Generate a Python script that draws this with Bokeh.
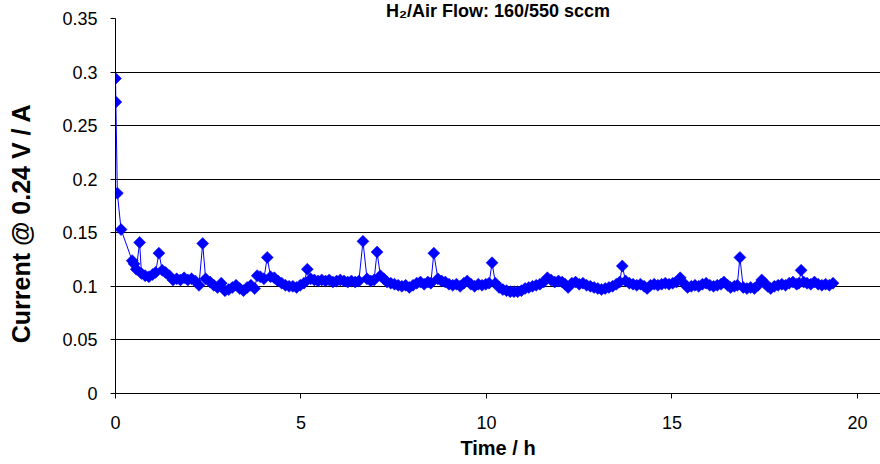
import numpy as np
from bokeh.plotting import figure
from bokeh.models import FixedTicker, CustomJSTickFormatter, Range1d
from bokeh.embed import file_html
from bokeh.resources import INLINE

# ---- data ----
time_h = [
    0.00, 0.01, 0.05, 0.15, 0.45, 0.50, 0.56, 0.65, 0.70, 0.80,
    0.90, 1.00, 1.08, 1.17, 1.26, 1.35, 1.45, 1.55, 1.65, 1.75,
    1.85, 1.95, 2.05, 2.15, 2.25, 2.35, 2.43, 2.55, 2.65, 2.75,
    2.85, 2.95, 3.05, 3.15, 3.25, 3.35, 3.45, 3.55, 3.65, 3.75,
    3.82, 3.90, 4.00, 4.09, 4.18, 4.28, 4.38, 4.48, 4.58, 4.68,
    4.78, 4.88, 4.98, 5.08, 5.17, 5.26, 5.36, 5.46, 5.56, 5.66,
    5.76, 5.86, 5.96, 6.06, 6.16, 6.26, 6.36, 6.46, 6.56, 6.67,
    6.78, 6.88, 6.97, 7.05, 7.14, 7.23, 7.32, 7.42, 7.52, 7.62,
    7.72, 7.82, 7.92, 8.02, 8.12, 8.22, 8.32, 8.42, 8.50, 8.58,
    8.69, 8.79, 8.89, 8.99, 9.09, 9.19, 9.29, 9.39, 9.48, 9.58,
    9.68, 9.78, 9.88, 9.98, 10.07, 10.15, 10.24, 10.34, 10.44, 10.54,
    10.64, 10.74, 10.84, 10.94, 11.04, 11.14, 11.24, 11.34, 11.44, 11.54,
    11.64, 11.74, 11.84, 11.94, 12.04, 12.12, 12.20, 12.30, 12.40, 12.50,
    12.60, 12.70, 12.80, 12.90, 13.00, 13.10, 13.20, 13.30, 13.40, 13.50,
    13.59, 13.66, 13.75, 13.85, 13.95, 14.05, 14.15, 14.25, 14.33, 14.42,
    14.52, 14.62, 14.72, 14.82, 14.92, 15.02, 15.12, 15.22, 15.32, 15.42,
    15.52, 15.62, 15.72, 15.82, 15.92, 16.02, 16.12, 16.22, 16.32, 16.40,
    16.50, 16.58, 16.68, 16.76, 16.83, 16.92, 17.02, 17.12, 17.22, 17.32,
    17.42, 17.50, 17.58, 17.66, 17.76, 17.86, 17.96, 18.06, 18.16, 18.26,
    18.36, 18.42, 18.48, 18.55, 18.64, 18.74, 18.84, 18.94, 19.04, 19.14,
    19.24, 19.34,
]
current_a = [
    0.294, 0.272, 0.187, 0.153, 0.124, 0.121, 0.116, 0.141, 0.112, 0.110,
    0.109, 0.111, 0.113, 0.131, 0.115, 0.113, 0.110, 0.106, 0.107, 0.106,
    0.108, 0.106, 0.107, 0.105, 0.101, 0.140, 0.107, 0.104, 0.101, 0.099,
    0.103, 0.096, 0.097, 0.099, 0.101, 0.098, 0.096, 0.099, 0.101, 0.098,
    0.110, 0.109, 0.107, 0.127, 0.109, 0.108, 0.105, 0.103, 0.101, 0.100,
    0.100, 0.099, 0.101, 0.103, 0.116, 0.107, 0.106, 0.105, 0.106, 0.105,
    0.106, 0.104, 0.105, 0.106, 0.105, 0.104, 0.105, 0.104, 0.105, 0.142,
    0.107, 0.105, 0.106, 0.132, 0.110, 0.107, 0.104, 0.103, 0.102, 0.101,
    0.100, 0.101, 0.099, 0.101, 0.103, 0.104, 0.102, 0.104, 0.103, 0.131,
    0.107, 0.105, 0.104, 0.102, 0.101, 0.102, 0.100, 0.103, 0.105, 0.102,
    0.100, 0.102, 0.101, 0.102, 0.103, 0.122, 0.103, 0.099, 0.097, 0.096,
    0.095, 0.095, 0.095, 0.096, 0.098, 0.099, 0.100, 0.101, 0.102, 0.104,
    0.108, 0.106, 0.104, 0.105, 0.104, 0.102, 0.099, 0.103, 0.104, 0.102,
    0.103, 0.101, 0.100, 0.099, 0.098, 0.097, 0.098, 0.099, 0.100, 0.102,
    0.104, 0.119, 0.105, 0.103, 0.102, 0.101, 0.102, 0.100, 0.098, 0.101,
    0.102, 0.101, 0.102, 0.103, 0.102, 0.103, 0.104, 0.108, 0.103, 0.099,
    0.100, 0.101, 0.100, 0.102, 0.103, 0.101, 0.100, 0.101, 0.102, 0.104,
    0.101, 0.099, 0.100, 0.101, 0.127, 0.099, 0.098, 0.099, 0.098, 0.101,
    0.106, 0.103, 0.100, 0.098, 0.100, 0.101, 0.102, 0.101, 0.103, 0.104,
    0.102, 0.103, 0.115, 0.104, 0.103, 0.102, 0.104, 0.102, 0.101, 0.102,
    0.101, 0.103,
]
x_ticks = [0, 5, 10, 15, 20]
y_ticks = [0, 0.05, 0.1, 0.15, 0.2, 0.25, 0.3, 0.35]
y_tick_labels = ["0", "0.05", "0.1", "0.15", "0.2", "0.25", "0.3", "0.35"]
title_text = "H\u2082/Air Flow: 160/550 sccm"
x_title = "Time / h"
y_title = "Current @ 0.24 V / A"

FONT = "Liberation Sans"
BLUE = "#0000FF"

p = figure(
    width=880, height=464,
    output_backend="svg", toolbar_location=None,
    x_range=Range1d(0, 20.62), y_range=Range1d(0, 0.35),
    min_border_left=115, min_border_right=0,
    min_border_top=18, min_border_bottom=71,
    background_fill_color="white", border_fill_color="white",
)
p.outline_line_color = None

p.title.text = title_text
p.title.align = "center"
p.title.text_font = FONT
p.title.text_font_style = "bold"
p.title.text_font_size = "18px"
p.title.text_color = "black"
p.title.standoff = -4
p.title.text_line_height = 0.75

p.line(time_h, current_a, line_color=BLUE, line_width=1)
p.scatter(time_h, current_a, marker="square", size=8.5, angle=np.pi / 4,
          fill_color=BLUE, line_color=BLUE, line_width=0.5)

# axes
p.xaxis.ticker = FixedTicker(ticks=x_ticks)
p.yaxis.ticker = FixedTicker(ticks=y_ticks)
p.yaxis.formatter = CustomJSTickFormatter(
    args=dict(tvals=y_ticks, tlabels=y_tick_labels),
    code="""
    let best = 0;
    for (let i = 0; i < tvals.length; i++) {
        if (Math.abs(tvals[i] - tick) < Math.abs(tvals[best] - tick)) best = i;
    }
    return tlabels[best];
    """,
)
for ax in (p.xaxis[0], p.yaxis[0]):
    ax.axis_line_color = "black"
    ax.axis_line_width = 1
    ax.major_tick_line_color = "black"
    ax.major_tick_in = 0
    ax.major_tick_out = 5
    ax.minor_tick_line_color = None
    ax.major_label_text_font = FONT
    ax.major_label_text_font_size = "18px"
    ax.major_label_text_color = "black"
    ax.axis_label_text_font = FONT
    ax.axis_label_text_font_style = "bold"
    ax.axis_label_text_color = "black"

p.xaxis.axis_label = x_title
p.xaxis.axis_label_text_font_size = "20px"
p.xaxis.major_label_standoff = 17
p.xaxis.axis_label_standoff = 5

# trailing no-break spaces shift the centred label down, as in the reference
p.yaxis.axis_label = y_title + "\u00a0" * 5
p.yaxis.axis_label_text_font_size = "25px"
p.yaxis.major_label_standoff = 13
p.yaxis.axis_label_standoff = 24

p.xgrid.grid_line_color = None
p.ygrid.grid_line_color = "black"
p.ygrid.grid_line_width = 1

open("out.html", "w").write(file_html(p, INLINE))
